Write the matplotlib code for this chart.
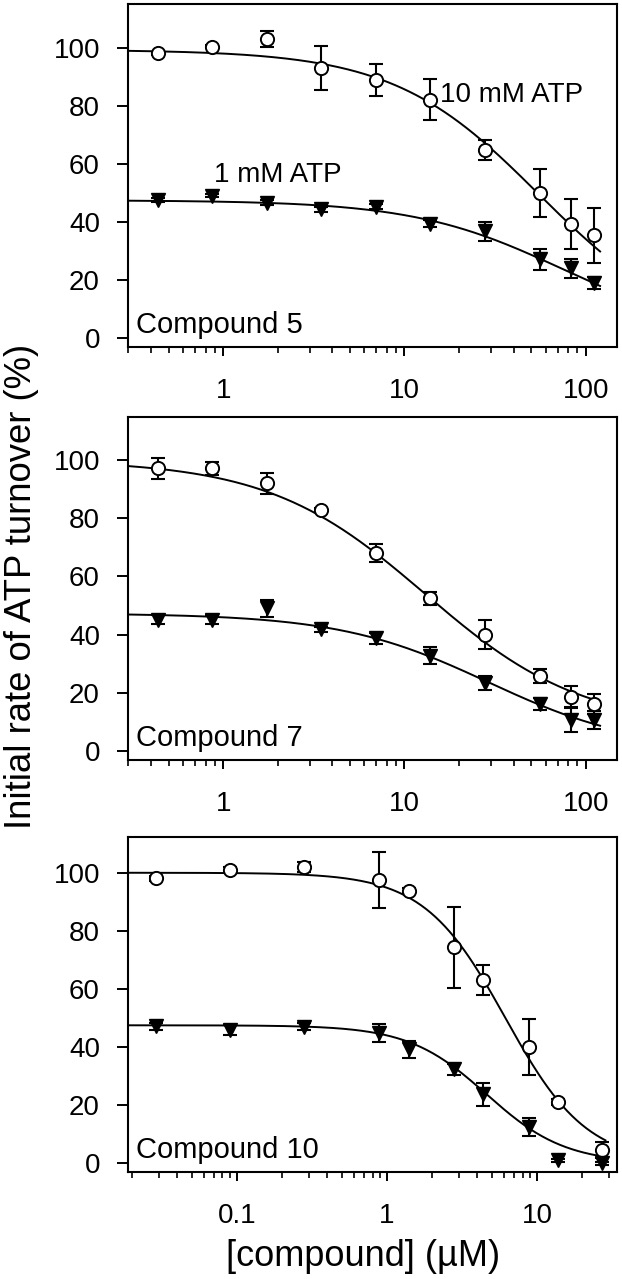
import numpy as np
import matplotlib
matplotlib.use("Agg")
import matplotlib.pyplot as plt
from matplotlib.ticker import LogLocator, FixedLocator, FuncFormatter, NullFormatter

plt.rcParams['font.family'] = ['Liberation Sans', 'DejaVu Sans']

# ---------------- data ----------------
conc_a = [0.434, 0.868, 1.74, 3.47, 6.94, 13.9, 27.8, 55.6, 83.3, 111]
conc_b = [0.029, 0.0905, 0.28, 0.883, 1.39, 2.78, 4.36, 8.77, 13.7, 27.2]

c5_10 = [98.3, 100.6, 103.2, 93.1, 89.0, 82.3, 65.0, 50.2, 39.4, 35.5]
c5_10_err = [0.5, 0.5, 2.7, 7.6, 5.6, 7.1, 3.4, 8.3, 8.6, 9.6]
c5_1 = [47.7, 49.1, 46.8, 44.5, 45.4, 39.5, 36.9, 27.2, 24.1, 19.0]
c5_1_err = [0.8, 0.5, 0.8, 0.8, 0.8, 1.2, 3.2, 3.7, 3.3, 2.1]

c7_10 = [97.1, 97.1, 92.0, 82.8, 68.1, 52.5, 39.9, 25.8, 18.7, 16.2]
c7_10_err = [3.6, 2.3, 3.7, 0.8, 3.0, 2.2, 5.0, 2.3, 3.5, 3.4]
c7_1 = [45.2, 45.2, 49.0, 41.8, 38.7, 32.8, 23.3, 16.2, 10.7, 10.7]
c7_1_err = [1.7, 1.5, 2.9, 0.8, 2.0, 3.0, 2.5, 2.0, 4.0, 3.0]

c10_10 = [98.1, 101.1, 102.1, 97.5, 93.8, 74.3, 63.1, 40.1, 21.1, 4.6]
c10_10_err = [0.8, 0.8, 1.7, 9.6, 0.8, 14.0, 5.2, 9.7, 1.0, 2.9]
c10_1 = [47.1, 45.9, 47.0, 44.9, 39.2, 32.3, 23.8, 12.4, 1.1, 0.0]
c10_1_err = [1.2, 1.7, 1.2, 3.0, 3.0, 2.0, 4.0, 3.1, 0.5, 0.5]

# fitted dose-response parameters: (top, bottom, IC50, Hill slope)
fit5_10 = (99.5, 0.0, 55.0, 1.08)
fit5_1 = (47.6, 0.0, 75.0, 1.05)
fit7_10 = (100.0, 8.0, 13.0, 1.0)
fit7_1 = (47.3, 0.0, 29.0, 1.05)
fit10_10 = (100.0, 0.0, 6.14, 1.6)
fit10_1 = (47.5, 0.0, 4.6, 1.66)

panel_labels = ["Compound 5", "Compound 7", "Compound 10"]
ytick_vals = [0, 20, 40, 60, 80, 100]


def hill(x, p):
    top, bottom, ic50, h = p
    return bottom + (top - bottom) / (1.0 + (x / ic50) ** h)


W, H = 622, 1279
fig = plt.figure(figsize=(W / 100, H / 100), dpi=100)

left = 127.7 / W
width = (616.6 - 127.7) / W
# (top_px, bottom_px)
boxes = [(4, 346.5), (417, 760), (836.7, 1171.7)]
ylims = [(-2.83, 115.3), (-3.09, 114.8), (-2.89, 112.4)]
xlims = [(0.297, 148), (0.297, 148), (0.0187, 33.8)]
curve_end = [120, 120, 28.5]

panels = [
    (conc_a, c5_10, c5_10_err, c5_1, c5_1_err, fit5_10, fit5_1),
    (conc_a, c7_10, c7_10_err, c7_1, c7_1_err, fit7_10, fit7_1),
    (conc_b, c10_10, c10_10_err, c10_1, c10_1_err, fit10_10, fit10_1),
]

FS = 20
lw_spine = 1.5

for i, (box, pdata) in enumerate(zip(boxes, panels)):
    top_px, bot_px = box
    ax = fig.add_axes([left, 1 - bot_px / H, width, (bot_px - top_px) / H])
    conc, y10, e10, y1, e1, f10, f1 = pdata
    ax.set_xscale('log')
    ax.set_xlim(*xlims[i])
    ax.set_ylim(*ylims[i])

    xc = np.logspace(np.log10(xlims[i][0]), np.log10(curve_end[i]), 400)
    ax.plot(xc, hill(xc, f10), color='black', lw=1.4, zorder=2)
    ax.plot(xc, hill(xc, f1), color='black', lw=1.4, zorder=2)

    ax.errorbar(conc, y10, yerr=e10, fmt='none', ecolor='black', elinewidth=1.5,
                capsize=5, capthick=1.5, zorder=3)
    ax.errorbar(conc, y1, yerr=e1, fmt='none', ecolor='black', elinewidth=1.5,
                capsize=5, capthick=1.5, zorder=3)
    ax.plot(conc, y10, linestyle='none', marker='o', markersize=9.5,
            markerfacecolor='white', markeredgecolor='black', markeredgewidth=1.4, zorder=4)
    ax.plot(conc, y1, linestyle='none', marker='v', markersize=10,
            markerfacecolor='black', markeredgecolor='black', markeredgewidth=1.0, zorder=4)

    for s in ax.spines.values():
        s.set_linewidth(lw_spine)

    ax.yaxis.set_major_locator(FixedLocator(ytick_vals))
    ax.xaxis.set_major_locator(LogLocator(base=10, numticks=10))
    ax.xaxis.set_minor_locator(LogLocator(base=10, subs=np.arange(2, 10), numticks=20))
    ax.xaxis.set_major_formatter(FuncFormatter(lambda v, pos: ('%g' % v)))
    ax.xaxis.set_minor_formatter(NullFormatter())
    ax.tick_params(axis='y', which='major', direction='out', length=8, width=1.4,
                   labelsize=FS, pad=12, right=False)
    ax.tick_params(axis='x', which='major', direction='out', length=6.5, width=1.4,
                   labelsize=FS, pad=16, top=False)
    ax.tick_params(axis='x', which='minor', direction='out', length=4.5, width=1.2, top=False)

    ax.text(0.017, 0.04, panel_labels[i], transform=ax.transAxes, fontsize=21,
            ha='left', va='baseline')

    if i == 0:
        ax.text(15.7, 84, "10 mM ATP", fontsize=FS, ha='left', va='center')
        ax.text(0.89, 56.4, "1 mM ATP", fontsize=FS, ha='left', va='center')

fig.text(0.034, 1 - 586.5 / H, "Initial rate of ATP turnover (%)", rotation=90,
         fontsize=26.3, ha='center', va='center')
fig.text(363 / W, 1 - 1256 / H, "[compound] (\u00b5M)", fontsize=26,
         ha='center', va='center')

fig.savefig("out.png", dpi=100)
